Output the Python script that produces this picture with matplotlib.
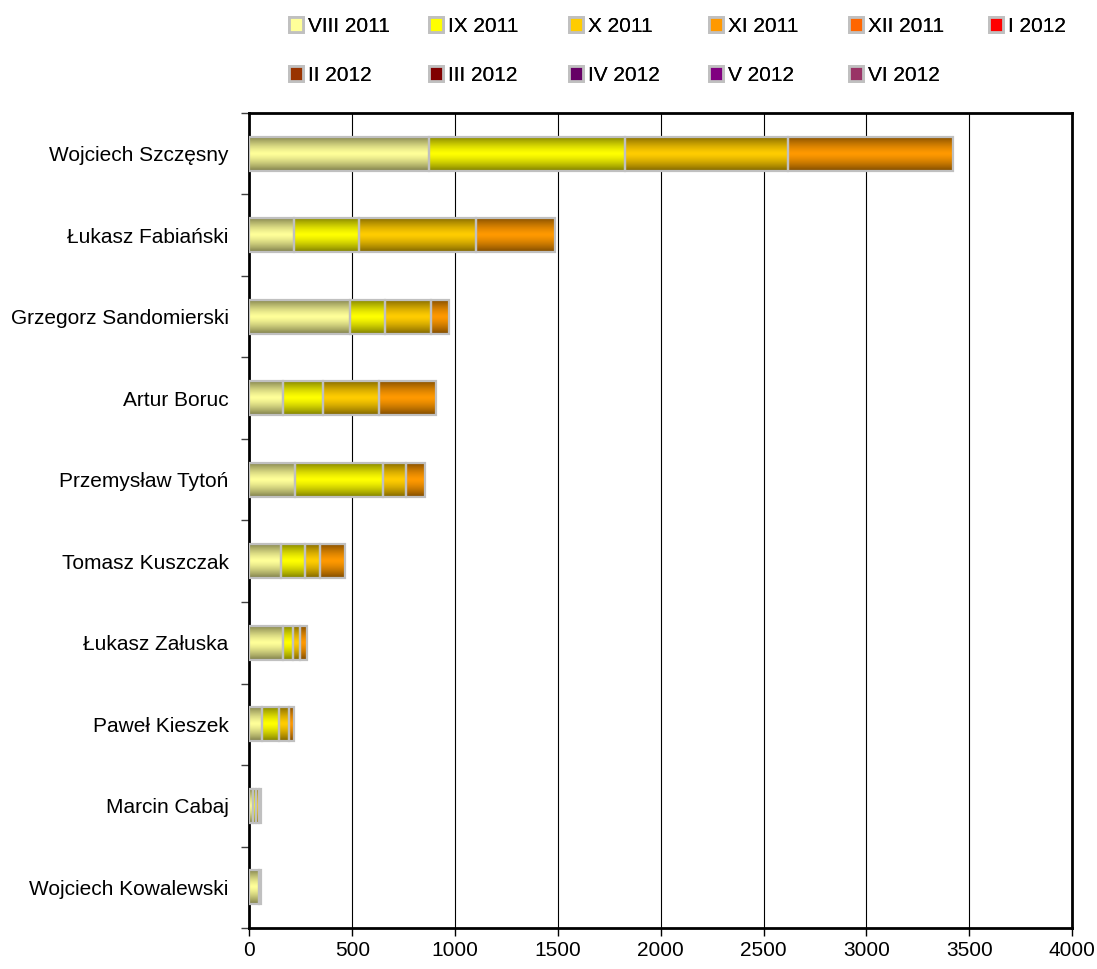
import numpy as np
import matplotlib
matplotlib.use('Agg')
import matplotlib.pyplot as plt
from matplotlib.patches import Patch
from matplotlib.colors import to_rgb

plt.rcParams['font.family'] = ['Liberation Sans', 'DejaVu Sans']

# players, top to bottom
players = ['Wojciech Szczęsny', 'Łukasz Fabiański', 'Grzegorz Sandomierski',
           'Artur Boruc', 'Przemysław Tytoń', 'Tomasz Kuszczak',
           'Łukasz Załuska', 'Paweł Kieszek', 'Marcin Cabaj',
           'Wojciech Kowalewski']

months = ['VIII 2011', 'IX 2011', 'X 2011', 'XI 2011', 'XII 2011', 'I 2012',
          'II 2012', 'III 2012', 'IV 2012', 'V 2012', 'VI 2012']

viii_2011 = [871, 218, 489, 163, 223, 155, 164, 60, 15, 48]
ix_2011 = [954, 313, 172, 195, 424, 115, 48, 83, 15, 10]
x_2011 = [793, 572, 220, 271, 114, 75, 36, 48, 15, 0]
xi_2011 = [805, 384, 88, 280, 91, 118, 32, 26, 13, 0]
xii_2011 = [0] * 10
i_2012 = [0] * 10
ii_2012 = [0] * 10
iii_2012 = [0] * 10
iv_2012 = [0] * 10
v_2012 = [0] * 10
vi_2012 = [0] * 10

series = [viii_2011, ix_2011, x_2011, xi_2011, xii_2011, i_2012,
          ii_2012, iii_2012, iv_2012, v_2012, vi_2012]

colors = ['#FFFF99', '#FFFF00', '#FFCC00', '#FF9900', '#FF6600', '#FF0000',
          '#993300', '#800000', '#660066', '#800080', '#993366']

fig = plt.figure(figsize=(10.97, 9.69), dpi=100)
ax = fig.add_axes([0.2274, 0.0423, 0.9772 - 0.2274, 0.8834 - 0.0423])

h = 0.42
t = np.linspace(0, 1, 64)
shade = 1 - 0.5 * np.abs(2 * t - 1) ** 1.4  # dark edges, bright middle

y = np.arange(len(players))
left = np.zeros(len(players))
for vals, col in zip(series, colors):
    rgb = np.array(to_rgb(col))
    grad = (shade[:, None] * rgb[None, :])[:, None, :]
    for i, v in enumerate(vals):
        if v <= 0:
            continue
        ax.imshow(grad, extent=[left[i], left[i] + v, y[i] + h / 2, y[i] - h / 2],
                  aspect='auto', interpolation='bilinear', zorder=3)
        ax.barh(y[i], v, height=h, left=left[i], facecolor='none',
                edgecolor='#C0C0C0', linewidth=1.6, zorder=4)
    left += np.array(vals)

ax.set_xlim(0, 4000)
ax.set_ylim(len(players) - 0.5, -0.5)
ax.set_xticks(np.arange(0, 4001, 500))
ax.set_yticks(y)
ax.set_yticklabels(players)
ax.set_yticks(np.arange(-0.5, len(players), 1), minor=True)
ax.tick_params(axis='y', which='major', length=0, pad=15, labelsize=15)
ax.tick_params(axis='y', which='minor', length=6, width=1, color='#404040')
ax.tick_params(axis='x', length=6, width=1, labelsize=15, pad=3)
ax.xaxis.grid(True, color='black', linewidth=0.8, zorder=0)
ax.set_axisbelow(True)
for s in ax.spines.values():
    s.set_linewidth(2)
    s.set_color('black')

# legend: one small legend per column so the columns are evenly spaced
for j in range(6):
    idx = [k for k in (j, j + 6) if k < len(months)]
    lg = fig.legend([Patch(facecolor=colors[k], edgecolor='#C0C0C0', linewidth=2) for k in idx],
                    [months[k] for k in idx], loc='upper left',
                    bbox_to_anchor=((272 + 140 * j) / 1097, 1.0),
                    frameon=False, fontsize=15, borderpad=0.3,
                    handlelength=0.7, handleheight=0.7, handletextpad=0.25,
                    labelspacing=1.45)
    fig.add_artist(lg)

fig.savefig('out.png', dpi=100)
